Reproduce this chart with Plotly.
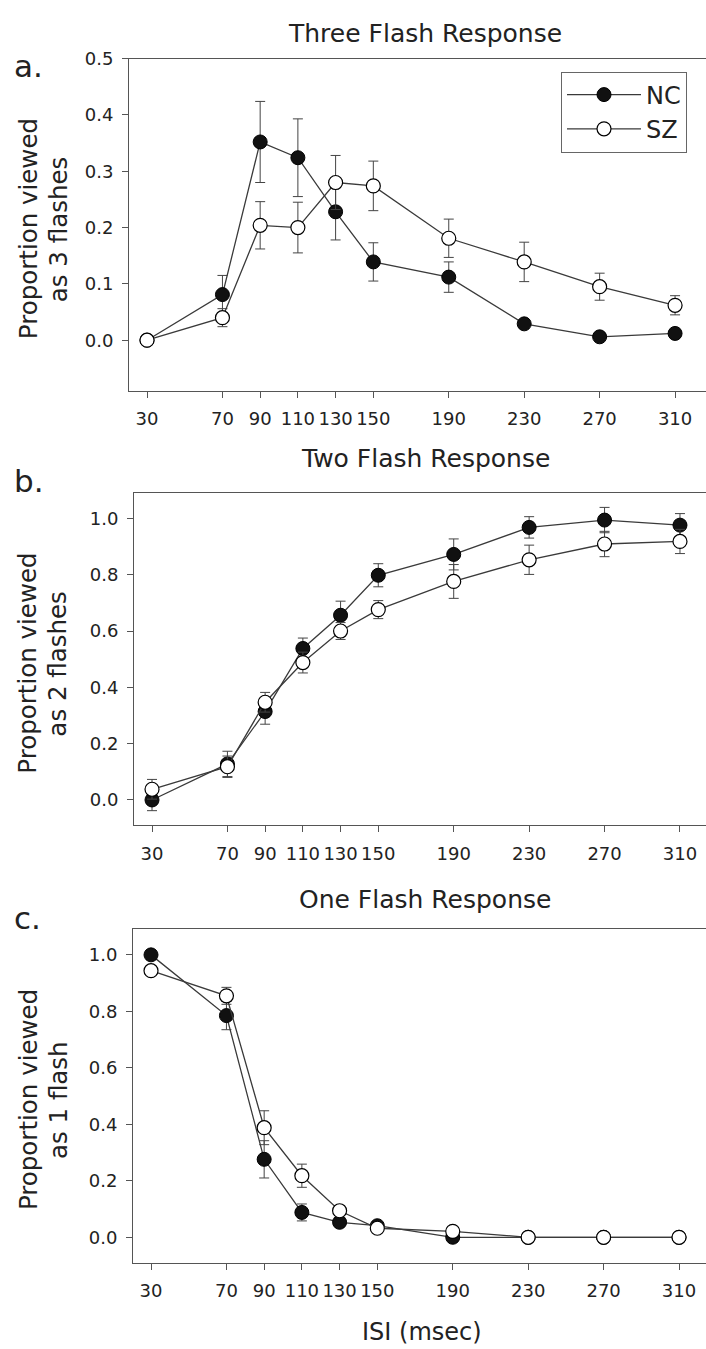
import plotly.graph_objects as go

# ---------------- data ----------------
isi = [30, 70, 90, 110, 130, 150, 190, 230, 270, 310]
isi_ticks = [30, 70, 90, 110, 130, 150, 190, 230, 270, 310]

three_nc = [0.0, 0.081, 0.352, 0.324, 0.228, 0.139, 0.112, 0.029, 0.006, 0.012]
three_nc_err = [0.0, 0.034, 0.072, 0.069, 0.050, 0.034, 0.027, 0.005, 0.004, 0.005]
three_sz = [0.0, 0.040, 0.204, 0.200, 0.280, 0.274, 0.181, 0.139, 0.095, 0.062]
three_sz_err = [0.0, 0.016, 0.042, 0.045, 0.048, 0.044, 0.034, 0.035, 0.024, 0.017]

two_nc = [0.0, 0.128, 0.314, 0.538, 0.656, 0.798, 0.872, 0.968, 0.994, 0.976]
two_nc_err = [0.038, 0.045, 0.045, 0.037, 0.050, 0.041, 0.055, 0.038, 0.045, 0.041]
two_sz = [0.038, 0.118, 0.347, 0.488, 0.600, 0.676, 0.776, 0.853, 0.909, 0.918]
two_sz_err = [0.035, 0.038, 0.035, 0.037, 0.030, 0.032, 0.060, 0.052, 0.045, 0.043]

one_nc = [1.0, 0.785, 0.276, 0.088, 0.053, 0.041, 0.0, 0.0, 0.0, 0.0]
one_nc_err = [0.0, 0.050, 0.066, 0.030, 0.010, 0.008, 0.0, 0.0, 0.0, 0.0]
one_sz = [0.944, 0.855, 0.388, 0.218, 0.094, 0.032, 0.021, 0.0, 0.0, 0.0]
one_sz_err = [0.0, 0.030, 0.060, 0.041, 0.010, 0.006, 0.005, 0.0, 0.0, 0.0]

panel_titles = ["Three Flash Response", "Two Flash Response", "One Flash Response"]
panel_letters = ["a.", "b.", "c."]
ytitle_line1 = "Proportion viewed"
ytitle_line2 = ["as 3 flashes", "as 2 flashes", "as 1 flash"]
xtitle = "ISI (msec)"

# ---------------- layout helpers ----------------
W, H = 706, 1349
def py(px):  # pixel from top -> paper y
    return 1 - px / H
def pxx(px):
    return px / W

FONT = "DejaVu Sans, Verdana, sans-serif"
TXT = "#222222"
LINEC = "#3a3a3a"
AXC = "#555555"

panels = [
    dict(nc=three_nc, nce=three_nc_err, sz=three_sz, sze=three_sz_err,
         top=48, bot=383, left=129, xr=[20.45, 326.4], yr=[-0.09, 0.5],
         yt=[0.0, 0.1, 0.2, 0.3, 0.4, 0.5], title_y=23, letter_y=55, ytitle_y=220),
    dict(nc=two_nc, nce=two_nc_err, sz=two_sz, sze=two_sz_err,
         top=486, bot=821, left=134, xr=[20.45, 323.8], yr=[-0.09, 1.09],
         yt=[0.0, 0.2, 0.4, 0.6, 0.8, 1.0], title_y=451, letter_y=474, ytitle_y=658),
    dict(nc=one_nc, nce=one_nc_err, sz=one_sz, sze=one_sz_err,
         top=926, bot=1262, left=133, xr=[20.45, 324.3], yr=[-0.09, 1.09],
         yt=[0.0, 0.2, 0.4, 0.6, 0.8, 1.0], title_y=896, letter_y=914, ytitle_y=1098),
]

fig = go.Figure()
layout = dict(
    width=W, height=H, margin=dict(l=0, r=0, t=0, b=0),
    paper_bgcolor="white", plot_bgcolor="white", showlegend=True,
)
annotations = []

for i, p in enumerate(panels):
    k = "" if i == 0 else str(i + 1)
    xa, ya = "x" + k, "y" + k
    fig.add_trace(go.Scatter(
        x=isi, y=p["nc"], xaxis=xa, yaxis=ya, name="NC", mode="lines+markers",
        showlegend=(i == 0),
        line=dict(color=LINEC, width=1.3),
        marker=dict(size=14, color="#111111", line=dict(color="#000000", width=1)),
        error_y=dict(type="data", array=p["nce"], color="#444444", thickness=1, width=5),
    ))
    fig.add_trace(go.Scatter(
        x=isi, y=p["sz"], xaxis=xa, yaxis=ya, name="SZ", mode="lines+markers",
        showlegend=(i == 0),
        line=dict(color=LINEC, width=1.3),
        marker=dict(size=14, color="white", line=dict(color="#000000", width=1.2)),
        error_y=dict(type="data", array=p["sze"], color="#444444", thickness=1, width=5),
    ))
    layout["xaxis" + k] = dict(
        domain=[pxx(p["left"]), 1.0], range=p["xr"], anchor=ya,
        tickmode="array", tickvals=isi_ticks, ticktext=[str(v) for v in isi_ticks],
        ticks="outside", ticklen=6, tickcolor=AXC, tickwidth=1,
        showline=True, linecolor=AXC, linewidth=1, mirror=True,
        showgrid=False, zeroline=False, ticklabelstandoff=6,
        tickfont=dict(family=FONT, size=18, color=TXT),
    )
    layout["yaxis" + k] = dict(
        domain=[py(p["bot"]), py(p["top"])], range=p["yr"], anchor=xa,
        tickmode="array", tickvals=p["yt"], ticktext=["%.1f" % v for v in p["yt"]],
        ticks="outside", ticklen=6, tickcolor=AXC, tickwidth=1,
        showline=True, linecolor=AXC, linewidth=1,
        showgrid=False, zeroline=False, ticklabelstandoff=5,
        tickfont=dict(family=FONT, size=18, color=TXT),
    )
    annotations.append(dict(text=panel_titles[i], x=pxx(425), y=py(p["title_y"]),
                            xref="paper", yref="paper", showarrow=False,
                            xanchor="center", yanchor="middle",
                            font=dict(family=FONT, size=25, color=TXT)))
    annotations.append(dict(text=panel_letters[i], x=pxx(12), y=py(p["letter_y"]),
                            xref="paper", yref="paper", showarrow=False,
                            xanchor="left", yanchor="middle",
                            font=dict(family=FONT, size=31, color=TXT)))
    annotations.append(dict(text=ytitle_line1, x=pxx(28), y=py(p["ytitle_y"]),
                            xref="paper", yref="paper", showarrow=False, textangle=-90,
                            xanchor="center", yanchor="middle",
                            font=dict(family=FONT, size=24.5, color=TXT)))
    annotations.append(dict(text=ytitle_line2[i], x=pxx(58), y=py(p["ytitle_y"]),
                            xref="paper", yref="paper", showarrow=False, textangle=-90,
                            xanchor="center", yanchor="middle",
                            font=dict(family=FONT, size=24.5, color=TXT)))

annotations.append(dict(text=xtitle, x=pxx(422), y=py(1332),
                        xref="paper", yref="paper", showarrow=False,
                        xanchor="center", yanchor="middle",
                        font=dict(family=FONT, size=24, color=TXT)))

layout["annotations"] = annotations
layout["legend"] = dict(
    x=pxx(561), y=py(61), xanchor="left", yanchor="top",
    bordercolor="#666666", borderwidth=1, bgcolor="white",
    font=dict(family=FONT, size=24, color=TXT),
    itemwidth=74, tracegroupgap=0,
)
fig.update_layout(**layout)
fig.write_html("out.html")
